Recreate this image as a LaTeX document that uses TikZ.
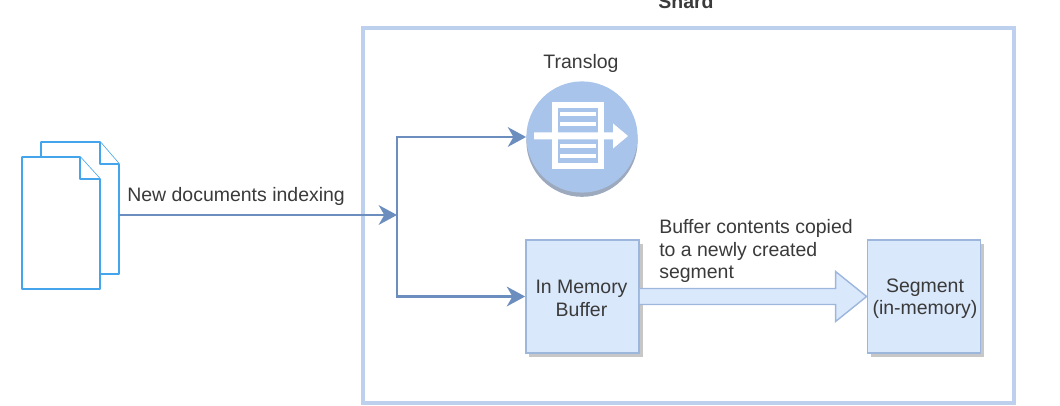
\documentclass[tikz,border=0pt]{standalone}
\usepackage{xcolor}
\usepackage{fontspec}
\setmainfont{Liberation Sans}
\usetikzlibrary{arrows.meta,calc,shadows}

\definecolor{shardline}{HTML}{BDD1EF}
\definecolor{edgeblue}{HTML}{6C8EBF}
\definecolor{boxfill}{HTML}{DAE8FC}
\definecolor{boxline}{HTML}{9DB6DC}
\definecolor{discblue}{HTML}{A9C4EB}
\definecolor{docline}{HTML}{45A5EC}
\definecolor{labelgray}{HTML}{3A3A3A}

\begin{document}
\begin{tikzpicture}[x=0.025cm,y=-0.025cm,font=\fontsize{13.85}{16}\selectfont,text=labelgray]

\tikzset{shardbox/.style = {draw=shardline,line width=2.4pt}}
\tikzset{membox/.style = {shape=rectangle,draw=boxline,fill=boxfill,line width=1.1pt,minimum size=2.83cm,inner sep=0pt,
  drop shadow={shadow xshift=2.5pt,shadow yshift=-3pt,fill=black,opacity=0.22}}}
\tikzset{boxtext/.style = {align=center,text=labelgray,inner sep=0pt}}
\tikzset{edge/.style = {draw=edgeblue,line width=1.7pt,->,>={Stealth[length=13pt,width=14pt,inset=4pt]}}}
\tikzset{docpage/.style = {draw=docline,line width=1.1pt,fill=white,line join=round}}
\tikzset{caption/.style = {align=left,inner sep=0pt,anchor=west}}
\useasboundingbox (0,0) rectangle (1060,406);

% shard
\node[shardbox,shape=rectangle,minimum width=16.27cm,minimum height=9.37cm] (shard) at (688.5,215.5) {};
\node[font=\fontsize{13.85}{16}\selectfont\bfseries] (shardlabel) at (686,2) {Shard};

% documents
\draw[docpage] (41,142) -- (100,142) -- (119,164) -- (119,274) -- (41,274) -- cycle;
\draw[docpage] (100,142) -- (100,164) -- (119,164);
\draw[docpage] (22,157) -- (80,157) -- (100,179) -- (100,289) -- (22,289) -- cycle;
\draw[docpage] (80,157) -- (80,179) -- (100,179);
\coordinate (docs) at (119,215);
\coordinate (split) at (397,215);

% translog
\node[shape=circle,fill=discblue,minimum size=2.78cm,inner sep=0pt,
  drop shadow={shadow xshift=0pt,shadow yshift=-3pt,fill=edgeblue!70!black,opacity=0.55}] (translog) at (582,137) {};
\node (transloglabel) at (581,63) {Translog};
\draw[white,line width=4pt,fill=discblue] (555,105) rectangle (601,166);
\foreach \y in {114,124,146,156} {
  \draw[white,line width=3.4pt] (560,\y) -- (596,\y);
}
\fill[white] (534,132.5) -- (613,132.5) -- (613,123.5) -- (628,136) -- (613,148.5) -- (613,139.5) -- (534,139.5) -- cycle;

% boxes
\node[membox] (buffer) at (582.5,296.5) {};
\node[membox] (segment) at (924,296.5) {};
\node[boxtext] (bufferlabel) at (581.5,298.5) {In Memory\\Buffer};
\node[boxtext] (segmentlabel) at (925,298.5) {Segment\\(in-memory)};

% edges
\draw[edge] (docs) -- (split);
\draw[edge] (split) |- (translog.west);
\draw[edge] (split) |- (buffer.west);
\node[caption] (indexlabel) at (127,196) {New documents indexing};
\node[caption] (copylabel) at (659,251) {Buffer contents copied\\to a newly created\\segment};

% block arrow
\draw[draw=boxline,fill=boxfill,line width=1pt,line join=miter]
  ($(buffer.east)+(0,-8)$) -- ($(segment.west)+(-31,-8)$) -- ($(segment.west)+(-31,-25)$) -- (segment.west)
  -- ($(segment.west)+(-31,25)$) -- ($(segment.west)+(-31,8)$) -- ($(buffer.east)+(0,8)$);
\end{tikzpicture}
\end{document}
